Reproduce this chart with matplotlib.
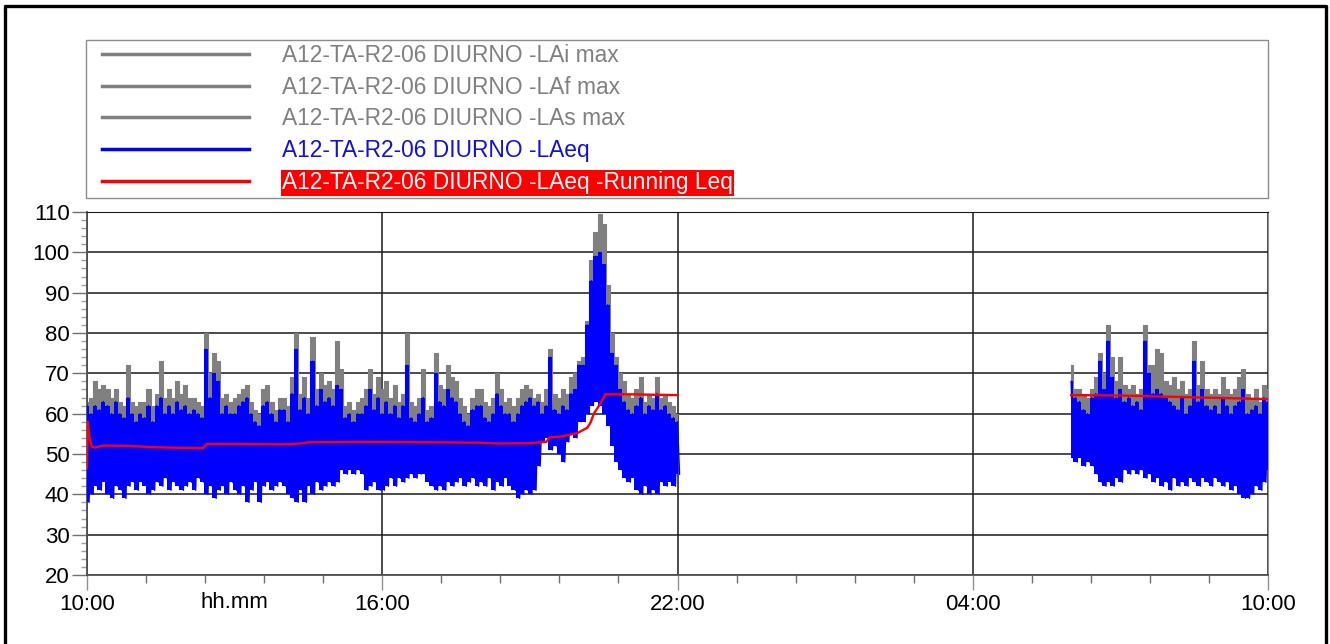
import numpy as np
import matplotlib

matplotlib.use("Agg")
import matplotlib.pyplot as plt
from matplotlib.lines import Line2D
from matplotlib.legend_handler import HandlerLine2D
from matplotlib.ticker import MultipleLocator, FixedLocator, FixedFormatter

plt.rcParams["font.family"] = ["Liberation Sans", "DejaVu Sans"]

GRAY = "#808080"
BLUE = "#0000ff"
RED = "#ff0000"

# sampling step of the exported profile, minutes
STEP_MIN = 5

# --- daytime block 10:00 -> 22:00 (one value per 5 min) ---
laeq_hi_day = [
    62, 60, 62, 61, 63, 62, 60, 63, 60, 59, 64, 60,
    58, 60, 59, 62, 58, 62, 64, 60, 62, 60, 63, 61,
    62, 60, 61, 60, 59, 76, 64, 70, 68, 60, 62, 60,
    60, 62, 63, 64, 60, 58, 57, 62, 63, 60, 58, 61,
    61, 58, 65, 76, 61, 64, 60, 73, 62, 66, 63, 64,
    62, 67, 66, 59, 60, 58, 60, 60, 62, 66, 61, 64,
    60, 63, 60, 62, 59, 62, 72, 59, 58, 60, 64, 58,
    59, 70, 63, 62, 66, 64, 63, 60, 58, 57, 61, 62,
    62, 59, 58, 60, 65, 62, 60, 60, 58, 60, 62, 63,
    64, 62, 63, 60, 62, 74, 61, 60, 62, 61, 65, 66,
    72, 72, 82, 93, 99, 100, 97, 87, 75, 72, 66, 63,
    61, 60, 62, 64, 60, 62, 61, 65, 61, 62, 60, 59,
    58,
]
laeq_lo_day = [
    38, 40, 42, 41, 43, 40, 39, 42, 41, 39, 42, 43,
    41, 43, 42, 40, 41, 43, 42, 44, 41, 43, 42, 41,
    42, 43, 41, 44, 43, 40, 42, 39, 41, 42, 40, 43,
    41, 40, 42, 38, 41, 43, 38, 42, 43, 41, 42, 43,
    42, 40, 39, 38, 41, 38, 42, 40, 43, 41, 42, 43,
    42, 43, 46, 45, 46, 45, 46, 45, 41, 42, 43, 41,
    41, 42, 44, 42, 44, 43, 44, 45, 44, 45, 45, 43,
    42, 41, 42, 41, 43, 42, 43, 44, 42, 43, 44, 42,
    43, 42, 44, 41, 43, 42, 44, 42, 41, 39, 40, 41,
    40, 41, 47, 53, 54, 51, 52, 50, 48, 53, 55, 54,
    58, 58, 60, 62, 63, 62, 60, 57, 52, 48, 46, 44,
    43, 44, 41, 40, 42, 40, 41, 40, 43, 42, 43, 42,
    45,
]
lamax_day = [
    63, 64, 68, 66, 67, 66, 64, 66, 63, 62, 72, 63,
    62, 63, 63, 66, 62, 65, 73, 64, 66, 64, 68, 65,
    67, 64, 64, 63, 62, 80, 70, 75, 73, 64, 65, 63,
    64, 65, 66, 67, 63, 61, 60, 66, 67, 63, 61, 64,
    64, 62, 69, 80, 65, 69, 64, 79, 66, 70, 67, 68,
    66, 78, 71, 62, 63, 61, 63, 64, 66, 71, 65, 69,
    66, 68, 64, 67, 63, 65, 80, 63, 62, 64, 71, 61,
    62, 75, 67, 66, 72, 69, 68, 64, 62, 60, 64, 66,
    66, 63, 62, 64, 70, 66, 63, 64, 62, 64, 66, 67,
    66, 64, 65, 63, 66, 76, 65, 64, 66, 65, 69, 70,
    73, 74, 83, 98, 105, 109.5, 107, 92, 80, 74, 70, 68,
    65, 64, 66, 69, 63, 65, 64, 69, 64, 65, 63, 62,
    60,
]

# --- morning block 06:00 -> 10:00 ---
laeq_hi_morning = [
    68, 64, 63, 61, 60, 64, 65, 73, 66, 78, 69, 64, 66, 63, 64, 62, 63,
    61, 78, 70, 65, 66, 65, 64, 63, 62, 61, 64, 60, 62, 73, 63, 66, 62,
    61, 62, 60, 64, 62, 60, 62, 63, 66, 60, 61, 62, 60, 64, 63,
]
laeq_lo_morning = [
    49, 48, 49, 47, 48, 47, 45, 43, 42, 43, 42, 44, 43, 46, 45, 46, 45,
    46, 44, 45, 43, 44, 42, 43, 41, 44, 42, 43, 42, 44, 43, 42, 44, 43,
    42, 44, 43, 42, 43, 41, 42, 40, 39, 39, 40, 42, 41, 43, 46,
]
lamax_morning = [
    72, 66, 66, 65, 64, 66, 69, 75, 70, 82, 74, 68, 74, 67, 66, 67, 65,
    66, 82, 72, 72, 76, 75, 68, 67, 69, 66, 68, 65, 66, 78, 67, 73, 66,
    65, 66, 65, 69, 66, 65, 66, 69, 71, 65, 64, 66, 63, 67, 66,
]

# running Leq (cumulative)
running_day_times = [
    "10:00", "10:01", "10:03", "10:06", "10:10", "10:20", "10:50", "11:20",
    "12:00", "12:22", "12:26", "13:00", "14:00", "14:20", "14:30", "15:30",
    "16:00", "17:00", "18:00", "18:20", "19:00", "19:20", "19:24", "19:40",
    "19:58", "20:10", "20:14", "20:18", "20:26", "20:32", "21:00", "21:30",
    "22:00",
]
running_day = [
    46.5, 58.0, 54.0, 51.8, 51.6, 52.1, 52.0, 51.7,
    51.5, 51.5, 52.5, 52.5, 52.4, 52.6, 52.9, 53.0,
    53.0, 52.9, 52.8, 52.6, 52.7, 53.0, 54.1, 54.4,
    55.2, 56.5, 57.8, 60.0, 62.5, 64.8, 64.8, 64.7,
    64.6,
]
running_morning_times = ["06:00", "07:00", "08:00", "09:00", "10:00"]
running_morning = [64.6, 64.5, 64.2, 63.9, 63.6]

labels = [
    "A12-TA-R2-06 DIURNO -LAi max",
    "A12-TA-R2-06 DIURNO -LAf max",
    "A12-TA-R2-06 DIURNO -LAs max",
    "A12-TA-R2-06 DIURNO -LAeq",
    "A12-TA-R2-06 DIURNO -LAeq -Running Leq",
]
x_tick_labels = ["10:00", "16:00", "22:00", "04:00", "10:00"]


def to_hours(hhmm, next_day=False):
    """Clock time -> hours elapsed since 10:00 on the first day."""
    h, m = (int(v) for v in hhmm.split(":"))
    return h + m / 60 + (24 if next_day else 0) - 10


def block_times(start, n, next_day=False):
    return to_hours(start, next_day) + np.arange(n) * STEP_MIN / 60


def zigzag(t, hi, lo):
    """Alternate between the interval maximum and minimum to draw the dense trace."""
    x = np.empty(2 * len(t))
    y = np.empty(2 * len(t))
    x[0::2] = t
    x[1::2] = t + STEP_MIN / 120
    y[0::2] = hi
    y[1::2] = lo
    return x, y


W, H = 1330, 644
fig = plt.figure(figsize=(W / 100, H / 100), dpi=100)
fig.patch.set_facecolor("white")
ax = fig.add_axes([87 / W, 1 - 575 / H, (1268 - 87) / W, (575 - 212) / H])

blocks = [
    (block_times("10:00", len(laeq_hi_day)), laeq_hi_day, laeq_lo_day, lamax_day),
    (block_times("06:00", len(laeq_hi_morning), True),
     laeq_hi_morning, laeq_lo_morning, lamax_morning),
]
for t, hi, lo, mx in blocks:
    hi, lo, mx = np.asarray(hi), np.asarray(lo), np.asarray(mx)
    # max levels (LAi / LAf / LAs overlap at this scale)
    ax.fill_between(t, hi, mx, step="mid", color=GRAY, lw=0, zorder=2)
    ax.plot(t, mx, drawstyle="steps-mid", color=GRAY, lw=0.8, zorder=2)
    # LAeq: solid band between interval min and max, spiky trace on top
    ax.fill_between(t, lo, hi, step="mid", color=BLUE, lw=0, zorder=3)
    zx, zy = zigzag(t, hi, lo)
    ax.plot(zx, zy, color=BLUE, lw=1.0, zorder=3)

ax.plot([to_hours(s) for s in running_day_times], running_day,
        color=RED, lw=1.7, zorder=4)
ax.plot([to_hours(s, True) for s in running_morning_times], running_morning,
        color=RED, lw=1.7, zorder=4)

ax.set_xlim(0, 24)
ax.set_ylim(20, 110)
ax.xaxis.set_major_locator(FixedLocator([0, 6, 12, 18, 24]))
ax.xaxis.set_major_formatter(FixedFormatter(x_tick_labels))
ax.xaxis.set_minor_locator(MultipleLocator(1.2))
ax.yaxis.set_major_locator(MultipleLocator(10))
ax.yaxis.set_minor_locator(MultipleLocator(2))

ax.set_axisbelow(True)
ax.grid(True, which="major", color="#1a1a1a", lw=1.1)
ax.tick_params(axis="y", which="major", length=11, width=1, color="#707070",
               pad=1.5, labelsize=16)
ax.tick_params(axis="y", which="minor", length=4.5, width=1, color="#a0a0a0")
ax.tick_params(axis="x", which="major", length=11, width=1, color="#909090",
               pad=3, labelsize=16)
ax.tick_params(axis="x", which="minor", length=6, width=1, color="#707070")
for side in ("left", "bottom"):
    ax.spines[side].set_color("#505050")
    ax.spines[side].set_linewidth(1.3)
ax.spines["right"].set_color("#909090")
ax.spines["top"].set_color("#1a1a1a")

ax.set_xlabel("hh.mm", fontsize=16)
ax.xaxis.set_label_coords(3 / 24, -0.047)

# legend box across the top of the page
handles = [Line2D([], [], color=c, lw=2.5) for c in (GRAY, GRAY, GRAY, BLUE, RED)]
leg = ax.legend(
    handles, labels, loc="upper left",
    bbox_to_anchor=(86 / W, 1 - 40 / H, 1182 / W, 0),
    bbox_transform=fig.transFigure, mode="expand", borderaxespad=0,
    fancybox=False, edgecolor="#8c8c8c", framealpha=1, fontsize=16.4,
    handlelength=7.0, handletextpad=1.45, labelspacing=0.39, borderpad=0.16,
    handler_map={Line2D: HandlerLine2D(xpad=0.55)},
)
leg.get_frame().set_linewidth(1.0)
for txt, c in zip(leg.get_texts(), (GRAY, GRAY, GRAY, "#1010e0", "white")):
    txt.set_color(c)
leg.get_texts()[-1].set_bbox(dict(facecolor=RED, edgecolor="none", pad=1))

# page border (left, top, right)
fig.add_artist(Line2D([4.5 / W, 4.5 / W, 1325.5 / W, 1325.5 / W],
                      [0, 1 - 6 / H, 1 - 6 / H, 0],
                      transform=fig.transFigure, color="black", lw=2.4))

fig.savefig("out.png", dpi=100)
plt.close(fig)
